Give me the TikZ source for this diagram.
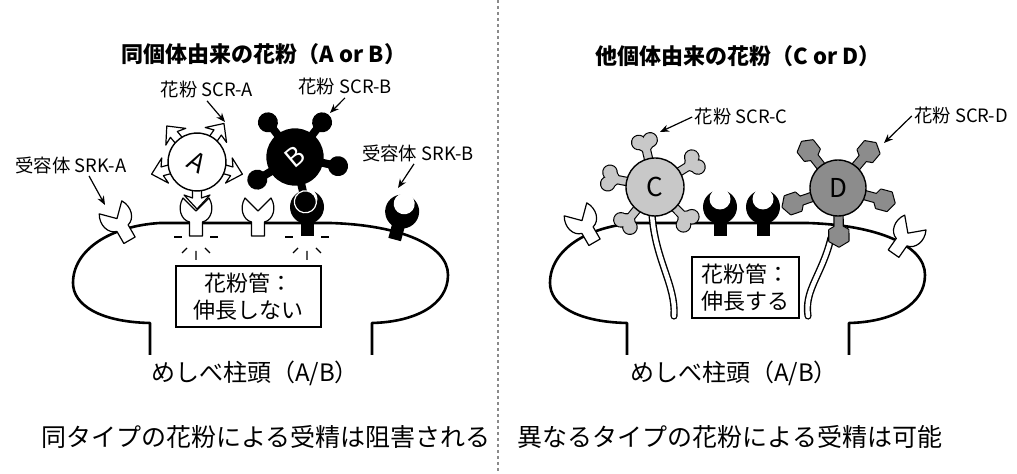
\documentclass[tikz,border=0pt]{standalone}
\usepackage{fontspec}
\setmainfont{Noto Sans CJK JP}
\usetikzlibrary{arrows.meta,positioning,calc}
\definecolor{pollenC}{HTML}{C8C8C8}
\definecolor{pollenD}{HTML}{8C8C8C}
\definecolor{divgray}{HTML}{8A8A8A}

\begin{document}
\begin{tikzpicture}[x=0.5pt, y=-0.5pt,
    wall/.style={line width=1.3pt, line join=round},
    ttl/.style={font=\fontsize{11}{13}\selectfont\bfseries},
    lbl/.style={font=\fontsize{9.2}{11}\selectfont, inner sep=1pt},
    ptr/.style={-{Stealth[length=4.5pt, width=3.6pt]}, line width=0.6pt},
    tubebox/.style={draw, line width=0.6pt, align=center, inner sep=0pt,
                    minimum height=30.5pt, font=\fontsize{11}{13.5}\selectfont},
    stigmalbl/.style={font=\fontsize{12}{14}\selectfont},
    note/.style={font=\fontsize{12.5}{15}\selectfont},
    grain/.style={circle, draw, line width=0.7pt, inner sep=0pt,
                  font=\fontsize{13}{13}\selectfont},
    sig/.style={line width=0.6pt},
    divider/.style={draw=divgray, line width=0.6pt, dash pattern=on 1.5pt off 1.5pt},
    % receptors, drawn upright on the membrane
    srka/.pic={
      \filldraw[fill=white, line width=0.6pt, line join=round]
        (-6.5,-1) .. controls (-15,-3) and (-19,-15) .. (-13,-25) -- (0,-12)
        -- (13,-25) .. controls (19,-15) and (15,-3) .. (6.5,-1)
        -- (6.5,13) -- (-6.5,13) -- cycle;
    },
    srkb/.pic={
      \fill (0,-16) circle (17);
      \fill (-6.5,-3) rectangle (6.5,13);
      \fill[white] (0,-24) circle (10.5);
    },
    % pollen ligands, pointing along +x
    scra/.pic={
      \filldraw[fill=white, line width=0.6pt, line join=round]
        (24,-4.5) -- (36,-4.5) -- (33,-13) -- (47,0) -- (33,13) -- (36,4.5)
        -- (24,4.5) -- cycle;
    },
    scrb/.pic={
      \fill (24,-4) rectangle (37,4);
      \fill (44,0) circle (10);
    },
    scrbound/.pic={
      \fill (24,-4) rectangle (37,4);
      \filldraw[draw=white, line width=0.6pt] (46,0) circle (11);
    },
    scrc/.pic={
      \foreach \c/\w in {black/1.2pt, pollenC/0.01pt} {
        \path[fill=\c, draw=\c, line width=\w] (24,-3.5) rectangle (40,3.5);
        \path[fill=\c, draw=\c, line width=\w] (47,-5.8) circle (6.6);
        \path[fill=\c, draw=\c, line width=\w] (47,5.8) circle (6.6);
        \path[fill=\c, draw=\c, line width=\w, line join=round]
          (35,0) -- (45,-11.8) -- (45,11.8) -- cycle;
      }
    },
    scrd/.pic={
      \foreach \c/\w in {black/1.2pt, pollenD/0.01pt} {
        \path[fill=\c, draw=\c, line width=\w] (24,-4) rectangle (40,4);
        \path[fill=\c, draw=\c, line width=\w, line join=round]
          (58.5,0) -- (53,9.5) -- (42,9.5) -- (36.5,0)
          -- (42,-9.5) -- (53,-9.5) -- cycle;
      }
    }
]
  \useasboundingbox (0,0) rectangle (1017,474);

  % Dividing line
  \draw[divider] (498,0) -- (498,474);

  % Titles
  \node[ttl] (ttlL) at (264,54) {同個体由来の花粉（A or B）};
  \node[ttl] (ttlR) at (738,56) {他個体由来の花粉（C or D）};

  % Stigma outlines
  \foreach \dx in {0,477}
    \draw[wall, shift={(\dx,0)}] (150,355) -- (150,323)
      .. controls (100,322) and (73,305) .. (73,283)
      .. controls (73,250) and (110,226) .. (160,223) -- (330,223)
      .. controls (400,225) and (448,245) .. (448,275)
      .. controls (448,305) and (415,322) .. (372,323) -- (372,355);

  % Receptors
  \pic[rotate=30] at (123,229) {srka};
  \pic at (196,223) {srka};
  \pic at (258,223) {srka};
  \pic at (307,223) {srkb};
  \pic[rotate=-15] at (398,227) {srkb};
  \pic[rotate=30] at (588,231) {srka};
  \pic at (720,223) {srkb};
  \pic at (763,223) {srkb};
  \pic[rotate=-35] at (901,243) {srka};

  % Rejection signal
  \foreach \sx in {196,307} {
    \draw[sig] (\sx-22,237) -- (\sx-14,237) (\sx+14,237) -- (\sx+22,237);
    \draw[sig] (\sx-14,253) -- (\sx-9,248) (\sx,251) -- (\sx,260)
               (\sx+9,248) -- (\sx+14,253);
  }

  % Pollen tubes
  \foreach \w/\c in {3.6pt/black, 2.2pt/white} {
    \draw[line width=\w, color=\c, line cap=round]
      (652,214) .. controls (655,260) and (676,285) .. (674,316);
    \draw[line width=\w, color=\c, line cap=round]
      (831,238) .. controls (822,275) and (804,290) .. (808,316);
  }

  % Pollen grains with their ligands
  \foreach \a in {130,55,195,-15,-90}
    \pic[rotate=\a] at (197,162) {scra};
  \node[grain, fill=white, minimum size=29pt, rotate=-30] (pollA) at (197,162) {A};

  \foreach \a in {128,52,-12,211}
    \pic[rotate=\a] at (295,157) {scrb};
  \pic[rotate=-77] at (295,157) {scrbound};
  \node[grain, fill=black, text=white, minimum size=28pt, rotate=40] (pollB) at (295,157) {B};

  \foreach \a in {103,32,169,231,-46}
    \pic[rotate=\a] at (655,187) {scrc};
  \node[grain, fill=pollenC, minimum size=29pt] (pollC) at (655,187) {C};

  \foreach \a in {128,50,199,-15,-89}
    \pic[rotate=\a] at (838,188) {scrd};
  \node[grain, fill=pollenD, minimum size=28pt] (pollD) at (838,188) {D};

  % Labels and pointers
  \node[lbl] (lscrA) at (207,90) {花粉 SCR-A};
  \node[lbl] (lscrB) at (345,87) {花粉 SCR-B};
  \node[lbl] (lsrkA) at (71,165) {受容体 SRK-A};
  \node[lbl] (lsrkB) at (418,153) {受容体 SRK-B};
  \node[lbl] (lscrC) at (741,117) {花粉 SCR-C};
  \node[lbl] (lscrD) at (961,116) {花粉 SCR-D};
  \coordinate (tipscrA) at (225,122);
  \coordinate (tipscrB) at (330,113);
  \coordinate (tipsrkA) at (105,205);
  \coordinate (tipsrkB) at (398,188);
  \coordinate (tipscrC) at (660,132);
  \coordinate (tipscrD) at (884,143);
  \draw[ptr] (lscrA.south) -- (tipscrA);
  \draw[ptr] (lscrB.south) -- (tipscrB);
  \draw[ptr] ([xshift=9pt]lsrkA.south) -- (tipsrkA);
  \draw[ptr] ([xshift=-2pt]lsrkB.south) -- (tipsrkB);
  \draw[ptr] (lscrC.west) -- (tipscrC);
  \draw[ptr] (lscrD.west) -- (tipscrD);

  % Pollen tube boxes
  \node[tubebox, minimum width=72.5pt] (tubeL) at (248.5,296.5) {花粉管：\\伸長しない};
  \node[tubebox, minimum width=53.5pt] (tubeR) at (745.5,287.5) {花粉管：\\伸長する};

  % Stigma labels and notes
  \node[stigmalbl] (stigL) at (255,373) {めしべ柱頭（A/B）};
  \node[stigmalbl] (stigR) at (734,373) {めしべ柱頭（A/B）};
  \node[note] (noteL) at (266,437) {同タイプの花粉による受精は阻害される};
  \node[note] (noteR) at (730,437) {異なるタイプの花粉による受精は可能};
\end{tikzpicture}
\end{document}
